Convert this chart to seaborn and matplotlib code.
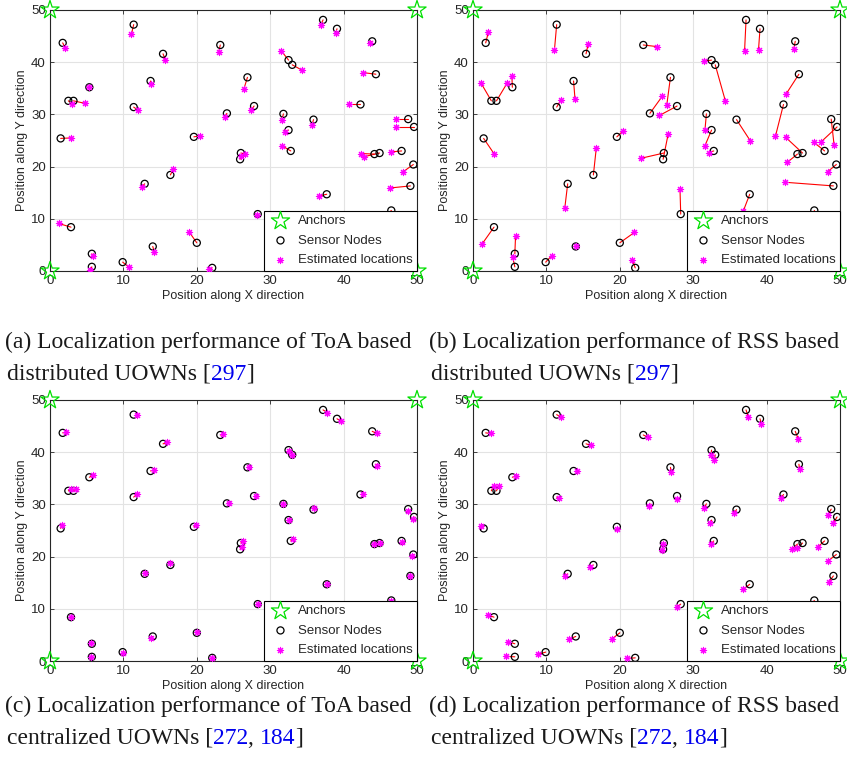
import numpy as np
import pandas as pd
import matplotlib
matplotlib.use("Agg")
import matplotlib.pyplot as plt
import seaborn as sns

# ---------------- data ----------------
node_x = [1.73, 11.4, 15.4, 23.2, 13.7, 5.36, 2.5, 3.2, 11.4, 24.1, 1.45, 19.6, 16.4, 12.9, 2.86,
          20.0, 14.0, 5.7, 5.7, 9.9, 22.1,
          37.2, 39.1, 43.9, 32.5, 33.0, 26.9, 44.4, 27.8, 42.3, 31.8, 35.9, 48.8, 49.6, 32.5,
          26.0, 25.9, 32.8, 44.2, 44.9, 47.9, 49.5, 49.1, 37.7, 28.3, 46.5]
node_y = [43.7, 47.2, 41.6, 43.3, 36.4, 35.2, 32.6, 32.6, 31.4, 30.2, 25.4, 25.7, 18.4, 16.7, 8.4,
          5.4, 4.7, 3.3, 0.8, 1.7, 0.6,
          48.1, 46.4, 44.0, 40.4, 39.5, 37.1, 37.7, 31.6, 31.9, 30.1, 29.0, 29.1, 27.6, 27.0,
          22.6, 21.4, 23.0, 22.4, 22.6, 23.0, 20.4, 16.3, 14.7, 10.9, 11.6]

# (a) ToA distributed
est_a_x = [2.1, 11.1, 15.7, 23.0, 13.8, 5.36, 3.0, 4.8, 12.0, 23.8, 2.9, 20.5, 16.8, 12.5, 1.2,
           19.0, 14.2, 5.8, 5.5, 10.7, 21.7,
           36.9, 38.9, 43.6, 31.5, 34.3, 26.4, 42.7, 27.4, 40.8, 31.6, 35.7, 47.1, 47.1, 32.0,
           26.5, 26.0, 31.6, 42.4, 42.8, 46.4, 48.1, 46.3, 36.7, 28.2, 46.0]
est_a_y = [42.7, 45.4, 40.5, 42.0, 35.9, 35.2, 32.0, 32.1, 30.8, 29.5, 25.5, 25.9, 19.5, 16.1, 9.1,
           7.4, 3.7, 2.8, 0.2, 0.8, 0.3,
           47.2, 45.5, 43.6, 42.2, 38.5, 34.8, 38.0, 30.8, 31.9, 29.0, 28.0, 29.1, 27.6, 26.7,
           22.4, 22.0, 24.0, 22.5, 21.9, 22.8, 19.0, 15.9, 14.4, 10.8, 10.8]

# (b) RSS distributed
est_b_x = [2.1, 11.1, 15.7, 25.0, 13.9, 5.3, 1.05, 4.7, 12.0, 25.8, 2.9, 20.5, 16.8, 12.5, 1.2,
           22.0, 14.1, 5.8, 5.4, 10.7, 21.7,
           37.0, 38.9, 43.7, 31.5, 34.4, 26.4, 42.7, 25.4, 41.2, 31.6, 37.8, 49.2, 47.4, 31.6,
           22.9, 26.6, 32.1, 42.8, 42.6, 46.4, 48.3, 42.5, 36.8, 28.2, 46.6]
est_b_y = [45.8, 42.4, 43.5, 43.0, 32.9, 37.3, 36.1, 36.1, 32.8, 33.5, 22.4, 26.9, 23.6, 12.0, 5.1,
           7.4, 4.7, 6.8, 2.7, 2.9, 2.2,
           42.2, 42.4, 42.5, 40.2, 32.5, 31.8, 34.0, 29.8, 25.8, 27.0, 24.9, 24.1, 24.7, 24.0,
           21.6, 26.3, 22.7, 20.8, 25.6, 24.7, 19.0, 17.0, 11.4, 15.7, 9.5]

# (c) ToA centralized
est_c_x = [2.2, 11.8, 16.0, 23.6, 14.2, 5.9, 2.9, 3.6, 11.8, 24.4, 1.6, 19.9, 16.4, 12.9, 2.8,
           20.0, 13.8, 5.6, 5.6, 9.9, 22.1,
           37.8, 39.6, 44.5, 32.6, 33.0, 27.1, 44.6, 28.0, 42.6, 31.8, 36.0, 48.8, 49.5, 32.6,
           26.3, 26.2, 33.1, 44.2, 44.9, 47.9, 49.3, 49.0, 37.7, 28.3, 46.5]
est_c_y = [43.8, 47.2, 41.9, 43.4, 36.6, 35.6, 32.9, 32.9, 31.9, 30.3, 26.0, 26.0, 18.7, 16.9, 8.5,
           5.6, 4.5, 3.5, 0.8, 1.5, 0.6,
           47.6, 46.0, 43.6, 40.3, 39.5, 37.1, 37.4, 31.6, 31.9, 30.1, 29.3, 28.7, 27.2, 27.0,
           23.0, 21.8, 23.3, 22.4, 22.6, 22.8, 20.1, 16.2, 14.7, 10.9, 11.5]

# (d) RSS centralized
est_d_x = [2.4, 12.0, 16.1, 23.8, 14.2, 5.9, 2.8, 3.5, 11.7, 24.0, 1.05, 19.6, 16.0, 12.6, 2.0,
           19.0, 13.1, 4.8, 4.5, 8.9, 21.0,
           37.5, 39.3, 44.3, 32.4, 32.9, 27.0, 44.5, 27.8, 42.0, 31.5, 35.6, 48.3, 49.1, 32.3,
           25.9, 25.7, 32.4, 43.5, 44.2, 47.0, 48.4, 48.5, 36.8, 27.8, 46.2]
est_d_y = [43.6, 46.7, 41.3, 42.9, 36.4, 35.5, 33.5, 33.5, 31.3, 29.6, 25.8, 25.3, 18.1, 16.3, 8.8,
           4.3, 4.2, 3.7, 0.9, 1.3, 0.5,
           46.8, 45.4, 42.6, 39.4, 38.6, 36.2, 36.7, 31.0, 31.3, 29.4, 28.3, 27.9, 26.5, 26.4,
           22.4, 21.3, 22.4, 21.5, 21.6, 21.9, 19.2, 15.2, 13.7, 10.4, 11.0]

anchor_x = [0, 0, 50, 50]
anchor_y = [0, 50, 50, 0]

ticks = [0, 10, 20, 30, 40, 50]

captions = [
    [("(a) Localization performance of ToA based", "k")],
    [("(b) Localization performance of RSS based", "k")],
    [("(c) Localization performance of ToA based", "k")],
    [("(d) Localization performance of RSS based", "k")],
]
captions2 = [
    [("distributed UOWNs [", "k"), ("297", "#0000ee"), ("]", "k")],
    [("distributed UOWNs [", "k"), ("297", "#0000ee"), ("]", "k")],
    [("centralized UOWNs [", "k"), ("272", "#0000ee"), (", ", "k"), ("184", "#0000ee"), ("]", "k")],
    [("centralized UOWNs [", "k"), ("272", "#0000ee"), (", ", "k"), ("184", "#0000ee"), ("]", "k")],
]

# ---------------- style ----------------
sns.set_theme(style="white")
plt.rcParams["font.family"] = ["Liberation Sans", "DejaVu Sans"]

W, H = 847, 778
fig = plt.figure(figsize=(W / 100, H / 100), dpi=100)

panels = [
    (50, 10, est_a_x, est_a_y),
    (473, 10, est_b_x, est_b_y),
    (50, 400, est_c_x, est_c_y),
    (473, 400, est_d_x, est_d_y),
]
aw, ah = 367, 261
axis_col = "#262626"

for i, (lx, ty, ex, ey) in enumerate(panels):
    ax = fig.add_axes([lx / W, 1 - (ty + ah) / H, aw / W, ah / H])
    ax.set_xlim(0, 50)
    ax.set_ylim(0, 50)
    ax.set_xticks(ticks)
    ax.set_yticks(ticks)
    ax.grid(True, color="#e3e3e3", linewidth=0.8)
    ax.set_axisbelow(True)
    for s in ax.spines.values():
        s.set_color(axis_col)
        s.set_linewidth(0.8)
    ax.tick_params(direction="in", length=3, width=0.6, colors=axis_col,
                   labelsize=9.5, pad=3, top=True, right=True, bottom=True, left=True,
                   labeltop=False, labelright=False)

    # error lines
    for nx, ny, px, py in zip(node_x, node_y, ex, ey):
        ax.plot([nx, px], [ny, py], color="red", lw=0.8, zorder=2)

    df_nodes = pd.DataFrame({"x": node_x, "y": node_y})
    df_est = pd.DataFrame({"x": ex, "y": ey})
    df_anc = pd.DataFrame({"x": anchor_x, "y": anchor_y})

    sns.scatterplot(data=df_anc, x="x", y="y", ax=ax, marker="*", s=190,
                    fc="none", ec="#00e000", linewidth=0.9, clip_on=False, zorder=6,
                    label="Anchors")
    sns.scatterplot(data=df_nodes, x="x", y="y", ax=ax, marker="o", s=26,
                    fc="none", ec="black", linewidth=0.9, zorder=3, label="Sensor Nodes")
    sns.scatterplot(data=df_est, x="x", y="y", ax=ax, marker=(8, 2, 0), s=20,
                    color="magenta", linewidth=0.8, zorder=4, label="Estimated locations")
    ax.set_xlabel("Position along X direction", fontsize=9, color=axis_col, labelpad=2)
    ax.set_ylabel("Position along Y direction", fontsize=9, color=axis_col, labelpad=2)

    leg = ax.legend(loc="lower right", bbox_to_anchor=(1, 0), borderaxespad=0.0,
                    fontsize=9.5, frameon=True, fancybox=False, framealpha=1,
                    edgecolor="black", handlelength=1.8, handletextpad=0.4,
                    labelspacing=0.55, borderpad=0.35)
    leg.get_frame().set_linewidth(0.8)
    leg.set_zorder(10)

# captions
fig.canvas.draw()
renderer = fig.canvas.get_renderer()
cap_font = dict(family=["Liberation Serif", "DejaVu Serif"], fontsize=17.0)
cap_pos = [(5, 342), (429, 342), (5, 706), (429, 706)]

def draw_pieces(x0, yc, pieces):
    x = x0
    for txt, col in pieces:
        t = fig.text(x / W, 1 - yc / H, txt, color=col, va="center", ha="left", **cap_font)
        bb = t.get_window_extent(renderer=renderer)
        x += bb.width

for i, (cx, cy) in enumerate(cap_pos):
    draw_pieces(cx, cy, captions[i])
    draw_pieces(cx + 2, cy + 32, captions2[i])

fig.savefig("out.png", dpi=100)
